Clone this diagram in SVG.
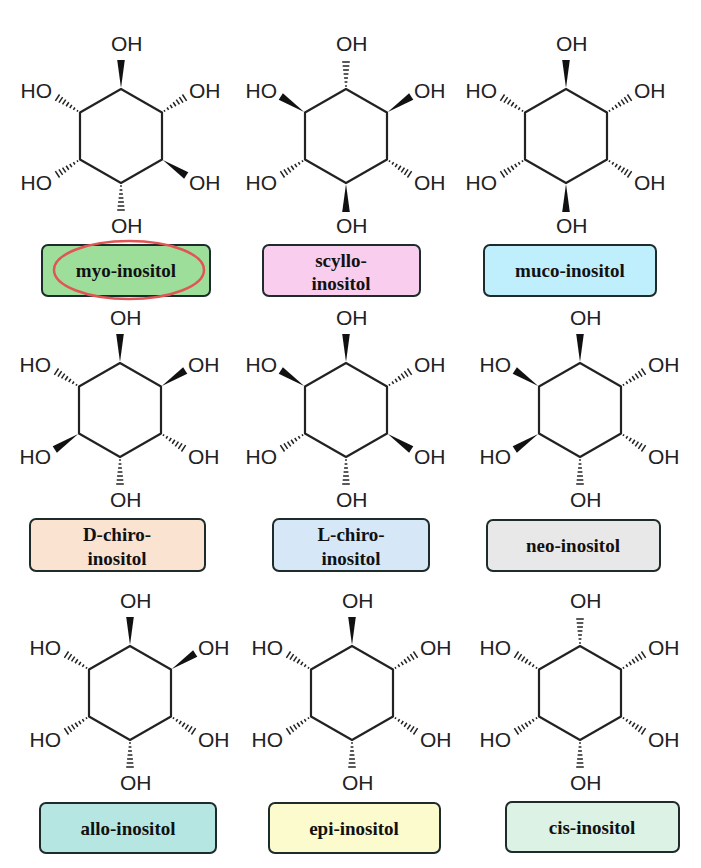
<svg xmlns="http://www.w3.org/2000/svg" xmlns:xlink="http://www.w3.org/1999/xlink" width="701" height="868" viewBox="0 0 701 868">
<style>
.ring{fill:none;stroke:#222;stroke-width:2.2;stroke-linejoin:round}
.t{font-family:"Liberation Sans",Arial,sans-serif;font-size:21px;fill:#222}
.e{text-anchor:end}
.box{stroke:#1e2b2b;stroke-width:2}
.lb{font-family:"Liberation Serif","Times New Roman",serif;font-weight:bold;font-size:19px;fill:#111;text-anchor:middle}
</style>
<defs>
<polygon id="w" points="1,0 29,-3.8 29,3.8" fill="#111"/>
<g id="h" stroke="#222" stroke-width="1.5">
<line x1="3" y1="-0.9" x2="3" y2="0.9"/><line x1="7" y1="-1.4" x2="7" y2="1.4"/><line x1="11" y1="-1.9" x2="11" y2="1.9"/><line x1="15" y1="-2.4" x2="15" y2="2.4"/><line x1="19" y1="-2.9" x2="19" y2="2.9"/><line x1="23" y1="-3.3" x2="23" y2="3.3"/><line x1="27" y1="-3.8" x2="27" y2="3.8"/>
</g>
<g id="base">
<polygon class="ring" points="0,-47 41,-23.5 41,23.5 0,47 -41,23.5 -41,-23.5"/>
<text class="t" x="-10" y="-85">OH</text>
<text class="t" x="68" y="-38">OH</text>
<text class="t" x="68" y="54">OH</text>
<text class="t" x="-10" y="97">OH</text>
<text class="t e" x="-69" y="54">HO</text>
<text class="t e" x="-69" y="-38">HO</text>
</g>
</defs>

<g id="myo-inositol" transform="translate(121,136)">
<use href="#base"/>
<use href="#w" transform="translate(0,-47) rotate(-90)"/>
<use href="#h" transform="translate(41,-23.5) rotate(-33.4)"/>
<use href="#w" transform="translate(41,23.5) rotate(33.4)"/>
<use href="#h" transform="translate(0,47) rotate(90)"/>
<use href="#h" transform="translate(-41,23.5) rotate(146.6)"/>
<use href="#h" transform="translate(-41,-23.5) rotate(-146.6)"/>
</g>
<g id="scyllo-inositol" transform="translate(346,136)">
<use href="#base"/>
<use href="#h" transform="translate(0,-47) rotate(-90)"/>
<use href="#w" transform="translate(41,-23.5) rotate(-33.4)"/>
<use href="#h" transform="translate(41,23.5) rotate(33.4)"/>
<use href="#w" transform="translate(0,47) rotate(90)"/>
<use href="#h" transform="translate(-41,23.5) rotate(146.6)"/>
<use href="#w" transform="translate(-41,-23.5) rotate(-146.6)"/>
</g>
<g id="muco-inositol" transform="translate(566,136)">
<use href="#base"/>
<use href="#w" transform="translate(0,-47) rotate(-90)"/>
<use href="#h" transform="translate(41,-23.5) rotate(-33.4)"/>
<use href="#h" transform="translate(41,23.5) rotate(33.4)"/>
<use href="#w" transform="translate(0,47) rotate(90)"/>
<use href="#h" transform="translate(-41,23.5) rotate(146.6)"/>
<use href="#h" transform="translate(-41,-23.5) rotate(-146.6)"/>
</g>
<g id="D-chiro-inositol" transform="translate(120,410)">
<use href="#base"/>
<use href="#w" transform="translate(0,-47) rotate(-90)"/>
<use href="#w" transform="translate(41,-23.5) rotate(-33.4)"/>
<use href="#h" transform="translate(41,23.5) rotate(33.4)"/>
<use href="#h" transform="translate(0,47) rotate(90)"/>
<use href="#w" transform="translate(-41,23.5) rotate(146.6)"/>
<use href="#h" transform="translate(-41,-23.5) rotate(-146.6)"/>
</g>
<g id="L-chiro-inositol" transform="translate(346,410)">
<use href="#base"/>
<use href="#w" transform="translate(0,-47) rotate(-90)"/>
<use href="#h" transform="translate(41,-23.5) rotate(-33.4)"/>
<use href="#w" transform="translate(41,23.5) rotate(33.4)"/>
<use href="#h" transform="translate(0,47) rotate(90)"/>
<use href="#h" transform="translate(-41,23.5) rotate(146.6)"/>
<use href="#w" transform="translate(-41,-23.5) rotate(-146.6)"/>
</g>
<g id="neo-inositol" transform="translate(580,410)">
<use href="#base"/>
<use href="#w" transform="translate(0,-47) rotate(-90)"/>
<use href="#h" transform="translate(41,-23.5) rotate(-33.4)"/>
<use href="#h" transform="translate(41,23.5) rotate(33.4)"/>
<use href="#h" transform="translate(0,47) rotate(90)"/>
<use href="#w" transform="translate(-41,23.5) rotate(146.6)"/>
<use href="#w" transform="translate(-41,-23.5) rotate(-146.6)"/>
</g>
<g id="allo-inositol" transform="translate(130,693)">
<use href="#base"/>
<use href="#w" transform="translate(0,-47) rotate(-90)"/>
<use href="#w" transform="translate(41,-23.5) rotate(-33.4)"/>
<use href="#h" transform="translate(41,23.5) rotate(33.4)"/>
<use href="#h" transform="translate(0,47) rotate(90)"/>
<use href="#h" transform="translate(-41,23.5) rotate(146.6)"/>
<use href="#h" transform="translate(-41,-23.5) rotate(-146.6)"/>
</g>
<g id="epi-inositol" transform="translate(352,693)">
<use href="#base"/>
<use href="#w" transform="translate(0,-47) rotate(-90)"/>
<use href="#h" transform="translate(41,-23.5) rotate(-33.4)"/>
<use href="#h" transform="translate(41,23.5) rotate(33.4)"/>
<use href="#h" transform="translate(0,47) rotate(90)"/>
<use href="#h" transform="translate(-41,23.5) rotate(146.6)"/>
<use href="#h" transform="translate(-41,-23.5) rotate(-146.6)"/>
</g>
<g id="cis-inositol" transform="translate(580,693)">
<use href="#base"/>
<use href="#h" transform="translate(0,-47) rotate(-90)"/>
<use href="#h" transform="translate(41,-23.5) rotate(-33.4)"/>
<use href="#h" transform="translate(41,23.5) rotate(33.4)"/>
<use href="#h" transform="translate(0,47) rotate(90)"/>
<use href="#h" transform="translate(-41,23.5) rotate(146.6)"/>
<use href="#h" transform="translate(-41,-23.5) rotate(-146.6)"/>
</g>

<g id="labels">
<rect class="box" x="42" y="245" width="168" height="51" rx="6" fill="#9ddf9a"/>
<text class="lb" x="126" y="277">myo-inositol</text>
<rect class="box" x="263" y="245" width="157" height="51" rx="6" fill="#f9cdee"/>
<text class="lb" x="341" y="267">scyllo-</text><text class="lb" x="341" y="290">inositol</text>
<rect class="box" x="484" y="245" width="172" height="51" rx="6" fill="#bfeefc"/>
<text class="lb" x="570" y="277">muco-inositol</text>
<rect class="box" x="30" y="519" width="175" height="52" rx="6" fill="#fbe3d2"/>
<text class="lb" x="117" y="541">D-chiro-</text><text class="lb" x="117" y="565">inositol</text>
<rect class="box" x="273" y="519" width="156" height="52" rx="6" fill="#d6e8f8"/>
<text class="lb" x="351" y="541">L-chiro-</text><text class="lb" x="351" y="565">inositol</text>
<rect class="box" x="487" y="520" width="173" height="51" rx="6" fill="#e8e8e8"/>
<text class="lb" x="573" y="552">neo-inositol</text>
<rect class="box" x="40" y="803" width="176" height="50" rx="6" fill="#b5e6e2"/>
<text class="lb" x="128" y="835">allo-inositol</text>
<rect class="box" x="269" y="803" width="171" height="50" rx="6" fill="#fbfbcd"/>
<text class="lb" x="354" y="835">epi-inositol</text>
<rect class="box" x="506" y="802" width="173" height="50" rx="6" fill="#dcf2e4"/>
<text class="lb" x="592" y="834">cis-inositol</text>
</g>
<ellipse cx="129" cy="270" rx="75" ry="29" fill="none" stroke="#e05555" stroke-width="2.5"/>
</svg>
